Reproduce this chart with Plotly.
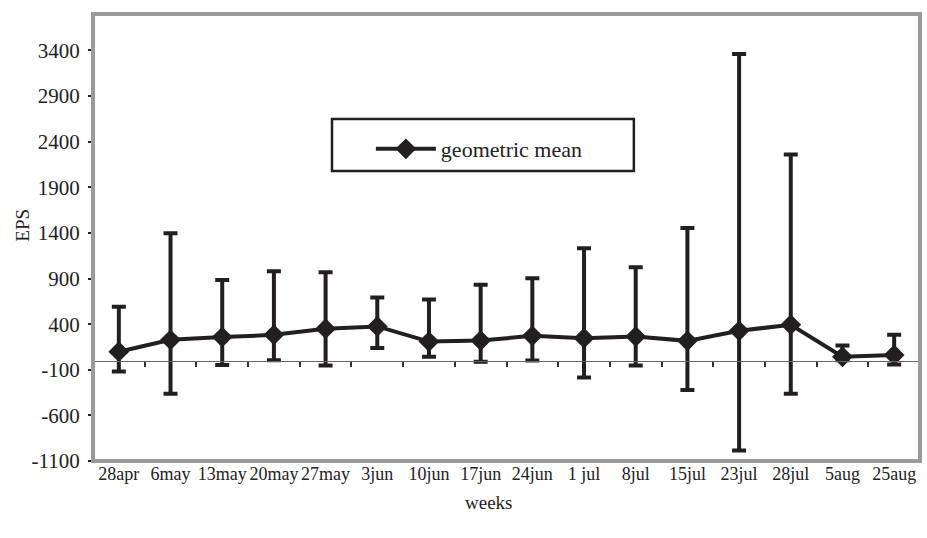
import plotly.graph_objects as go

weeks = ["28apr", "6may", "13may", "20may", "27may", "3jun", "10jun", "17jun",
         "24jun", "1 jul", "8jul", "15jul", "23jul", "28jul", "5aug", "25aug"]
geo_mean = [98, 228, 258, 283, 350, 375, 209, 220, 272, 246, 265, 217, 327, 394, 43, 62]
upper = [590, 1397, 884, 980, 969, 692, 670, 833, 902, 1231, 1024, 1455, 3361, 2260, 165, 283]
lower = [-120, -362, -49, 5, -52, 140, 43, -12, 2, -185, -52, -322, -985, -362, 5, -41]
y_ticks = [-1100, -600, -100, 400, 900, 1400, 1900, 2400, 2900, 3400]
y_tick_text = ["-1100", "-600", "-100", "400", "900", "1400", "1900", "2400", "2900", "3400"]

err_plus = [u - m for u, m in zip(upper, geo_mean)]
err_minus = [m - l for m, l in zip(geo_mean, lower)]

DARK = "#231f20"
FONT = "Liberation Serif"
Y_MIN, Y_MAX = -1100, 3800

fig = go.Figure()
fig.add_trace(go.Scatter(
    x=weeks, y=geo_mean, mode="lines+markers", name="geometric mean",
    line=dict(color=DARK, width=4),
    marker=dict(symbol="diamond", size=16, color=DARK),
    error_y=dict(type="data", array=err_plus, arrayminus=err_minus,
                 color=DARK, thickness=4, width=7, visible=True),
))
# helper trace on the axis crossing at zero (for category boundary ticks)
fig.add_trace(go.Scatter(
    x=weeks, y=geo_mean, xaxis="x2", mode="markers", showlegend=False,
    marker=dict(opacity=0), hoverinfo="skip",
))

zero_pos = (0 - Y_MIN) / (Y_MAX - Y_MIN)

fig.update_layout(
    width=927, height=538,
    margin=dict(l=93, r=7, t=14, b=77, autoexpand=False),
    paper_bgcolor="white", plot_bgcolor="white",
    font=dict(family=FONT, color="#222", size=18),
    showlegend=True,
    legend=dict(x=0.336, y=0.745, xanchor="left", yanchor="top",
                bgcolor="rgba(0,0,0,0)", borderwidth=0,
                font=dict(size=22, family=FONT, color="#222"),
                itemwidth=60),
    xaxis=dict(type="category", range=[-0.5, len(weeks) - 0.5], automargin=False,
               showgrid=False, zeroline=False, showline=False, ticks="",
               tickfont=dict(size=18, family=FONT, color="#222")),
    xaxis2=dict(type="category", overlaying="x", anchor="free", position=zero_pos,
                range=[-0.5, len(weeks) - 0.5], matches="x", automargin=False,
                showgrid=False, zeroline=False, showline=True, linecolor="#666",
                linewidth=1.2, ticks="outside", tickson="boundaries", ticklen=5,
                tickwidth=1.5, tickcolor="#333", showticklabels=False),
    yaxis=dict(range=[Y_MIN, Y_MAX], tickvals=y_ticks, ticktext=y_tick_text,
               automargin=False, showgrid=False,
               zeroline=False, showline=False, ticks="outside", ticklen=4,
               tickwidth=2, tickcolor="#222", ticklabelstandoff=4,
               tickfont=dict(size=21, family=FONT, color="#222")),
    shapes=[
        dict(type="rect", xref="paper", yref="paper", x0=0, x1=1, y0=0, y1=1,
             line=dict(color="#9a9a9a", width=4)),
        dict(type="rect", xref="paper", yref="paper", x0=0.289, x1=0.654,
             y0=0.649, y1=0.765, line=dict(color=DARK, width=2.5)),
    ],
    annotations=[
        dict(text="weeks", xref="paper", yref="paper", x=0.478, y=-0.092,
             showarrow=False, font=dict(size=19, family=FONT, color="#222"),
             xanchor="center", yanchor="middle"),
        dict(text="EPS", xref="paper", yref="paper", x=-0.085, y=0.528,
             showarrow=False, textangle=-90,
             font=dict(size=19, family=FONT, color="#222"),
             xanchor="center", yanchor="middle"),
    ],
)

fig.write_html("out.html", config={"displayModeBar": False},
               post_script="document.body.style.margin='0';")
